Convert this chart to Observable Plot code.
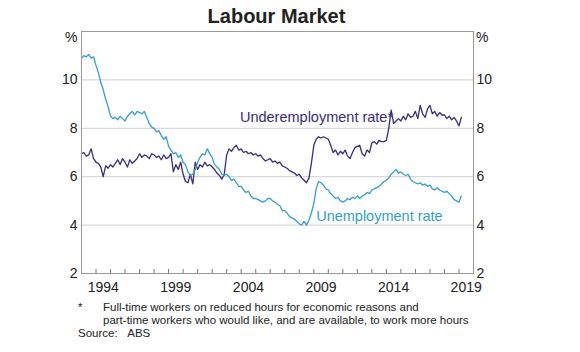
<!DOCTYPE html>
<html>
<head>
<meta charset="utf-8">
<script src="https://cdn.jsdelivr.net/npm/d3@7"></script>
<script src="https://cdn.jsdelivr.net/npm/@observablehq/plot@0.6"></script>
<style>
  html, body { margin: 0; padding: 0; background: #fff; }
  #wrap { position: relative; width: 580px; height: 352px; font-family: "Liberation Sans", Arial, sans-serif; color: #222; }
  #wrap svg { position: absolute; left: 0; top: 0; }
  .t { position: absolute; white-space: nowrap; }
</style>
</head>
<body>
<div id="wrap">
  <div class="t" style="left:0;width:553px;text-align:center;top:5px;font-size:20px;font-weight:bold;">Labour Market</div>
  <div class="t" style="left:65px;top:29px;font-size:14px;">%</div>
  <div class="t" style="left:476px;top:29px;font-size:14px;">%</div>
  <div class="t" style="left:78px;top:301px;font-size:11.5px;">*</div>
  <div class="t" style="left:103px;top:301px;font-size:11.5px;line-height:13px;">Full-time workers on reduced hours for economic reasons and<br>part-time workers who would like, and are available, to work more hours</div>
  <div class="t" style="left:78px;top:327px;font-size:11.5px;">Source:&nbsp;&nbsp;&nbsp;ABS</div>
</div>
<script>
// Bimonthly observations starting January 1993
const startYear = 1993;
const stepMonths = 2;

const unemployment = [
  10.9, 11.0, 10.95, 11.05, 10.9, 10.95,
  10.6, 10.3, 9.9, 9.6, 9.2, 8.9,
  8.5, 8.4, 8.45, 8.35, 8.5, 8.4,
  8.3, 8.5, 8.6, 8.7, 8.55, 8.7,
  8.65, 8.6, 8.7, 8.45, 8.2, 8.05,
  8.0, 7.85, 7.9, 7.7, 7.55, 7.65,
  7.25, 7.1, 6.95, 7.0, 6.8, 6.9,
  6.6, 6.5, 6.2, 6.05, 6.1, 6.3,
  6.6, 6.8, 6.95, 6.9, 7.15, 6.95,
  6.8, 6.5, 6.4, 6.3, 6.1, 6.05,
  6.1, 6.0, 5.85, 5.9, 5.75, 5.6,
  5.6, 5.45, 5.35, 5.4, 5.2, 5.1,
  5.1, 5.05, 5.0, 4.95, 5.0, 5.1,
  5.1, 5.0, 4.95, 4.85, 4.8, 4.6,
  4.6, 4.5, 4.35, 4.3, 4.25, 4.15,
  4.05, 4.0, 4.15, 4.0, 4.2, 4.5,
  4.9, 5.5, 5.8, 5.75, 5.65, 5.5,
  5.45, 5.3, 5.2, 5.1, 5.15, 5.0,
  4.95, 5.0, 5.1, 5.05, 5.15, 5.1,
  5.2, 5.1, 5.2, 5.25, 5.35, 5.3,
  5.45, 5.5, 5.55, 5.6, 5.7, 5.8,
  5.85, 5.95, 6.1, 6.2, 6.3, 6.15,
  6.2, 6.1, 6.05, 6.1, 5.9, 5.8,
  5.75, 5.7, 5.75, 5.65, 5.7, 5.6,
  5.65, 5.5, 5.45, 5.55, 5.45, 5.4,
  5.35, 5.4, 5.3, 5.2, 5.05, 5.0,
  4.95, 5.2
];

const underemployment = [
  6.95, 7.0, 6.85, 6.9, 7.15, 6.75,
  6.6, 6.55, 6.4, 6.0, 6.45, 6.35,
  6.5, 6.4, 6.55, 6.7, 6.5, 6.75,
  6.6, 6.4, 6.7, 6.55, 6.65, 6.75,
  6.95, 6.8, 6.9, 6.85, 6.75, 6.95,
  6.9, 6.8, 6.85, 6.7, 6.9, 6.75,
  6.8, 6.95, 6.2, 6.5, 6.3, 6.6,
  6.1, 5.8, 5.75, 6.1, 5.7, 6.6,
  6.3, 6.5, 6.4, 6.6, 6.45, 6.5,
  6.4, 6.3, 6.15, 6.05, 5.9, 6.1,
  6.9, 7.15, 7.05, 7.2, 7.3, 7.1,
  7.15, 7.0, 7.05, 6.95, 7.0, 6.9,
  6.95, 6.85, 6.9, 6.75, 6.65, 6.7,
  6.75, 6.6, 6.65, 6.55, 6.6, 6.45,
  6.4, 6.35, 6.25, 6.2, 6.15, 6.05,
  6.1, 5.95, 5.85, 5.75, 5.95, 6.55,
  7.3, 7.55, 7.65, 7.6, 7.65, 7.6,
  7.55, 7.3, 7.0, 7.1, 6.9, 7.05,
  6.95, 7.1, 6.85, 6.75, 7.0, 7.2,
  7.25, 7.3, 6.95, 6.85, 7.1, 7.0,
  7.4, 7.45, 7.35, 7.5, 7.45, 7.45,
  7.5, 8.0, 8.75, 8.2, 8.3, 8.4,
  8.3, 8.5, 8.35, 8.6, 8.45, 8.5,
  8.7, 8.4, 8.95, 8.6, 8.45, 8.8,
  8.95, 8.6, 8.7, 8.5, 8.65, 8.55,
  8.55, 8.4, 8.5, 8.35, 8.45, 8.3,
  8.1, 8.45
];

const yTicks = [2, 4, 6, 8, 10];
const gridValues = [4, 6, 8, 10];
const labelYears = [1994, 1999, 2004, 2009, 2014, 2019];
const domainYears = [1993, 2020];

const seriesLabels = [
  {text: "Underemployment rate*", year: 2003, month: 11, value: 8.45, series: "under"},
  {text: "Unemployment rate", year: 2009, month: 2, value: 4.35, series: "unemp"}
];

const colors = {unemp: "#2f9fd8", under: "#3b2a86"};

const toDate = (i) => new Date(Date.UTC(startYear, i * stepMonths, 1));
const unempData = unemployment.map((v, i) => ({date: toDate(i), value: v}));
const underData = underemployment.map((v, i) => ({date: toDate(i), value: v}));
const labelData = seriesLabels.map(d => ({...d, date: new Date(Date.UTC(d.year, d.month, 1))}));
const minorTicks = d3.range(domainYears[0] + 1, domainYears[1]).map(y => new Date(Date.UTC(y, 0, 1)));
const labelTicks = labelYears.map(y => new Date(Date.UTC(y, 6, 1)));

const chart = Plot.plot({
  width: 580,
  height: 300,
  marginTop: 31,
  marginBottom: 27,
  marginLeft: 81,
  marginRight: 107,
  style: {fontFamily: "Liberation Sans, Arial, sans-serif", fontSize: "14px", color: "#222", background: "transparent"},
  x: {type: "utc", domain: domainYears.map(y => new Date(Date.UTC(y, 0, 1)))},
  y: {domain: [2, 12]},
  marks: [
    Plot.gridY(gridValues, {stroke: "#d0d0d0", strokeOpacity: 1}),
    Plot.axisY(yTicks, {anchor: "left", tickSize: 0, tickPadding: 4, label: null, fontSize: 14}),
    Plot.axisY(yTicks, {anchor: "right", tickSize: 0, tickPadding: 3, label: null, fontSize: 14}),
    Plot.axisX(minorTicks, {anchor: "bottom", tickSize: -4, tickFormat: () => "", label: null, stroke: "#777"}),
    Plot.axisX(labelTicks, {anchor: "bottom", tickSize: 0, tickPadding: 9, tickFormat: "%Y", label: null, fontSize: 14}),
    Plot.lineY(underData, {x: "date", y: "value", stroke: colors.under, strokeWidth: 1.3}),
    Plot.lineY(unempData, {x: "date", y: "value", stroke: colors.unemp, strokeWidth: 1.3}),
    Plot.text(labelData, {x: "date", y: "value", text: "text", fill: d => colors[d.series], textAnchor: "start", fontSize: 14.5}),
    Plot.frame({stroke: "#999"})
  ]
});
document.getElementById("wrap").prepend(chart);
</script>
</body>
</html>
